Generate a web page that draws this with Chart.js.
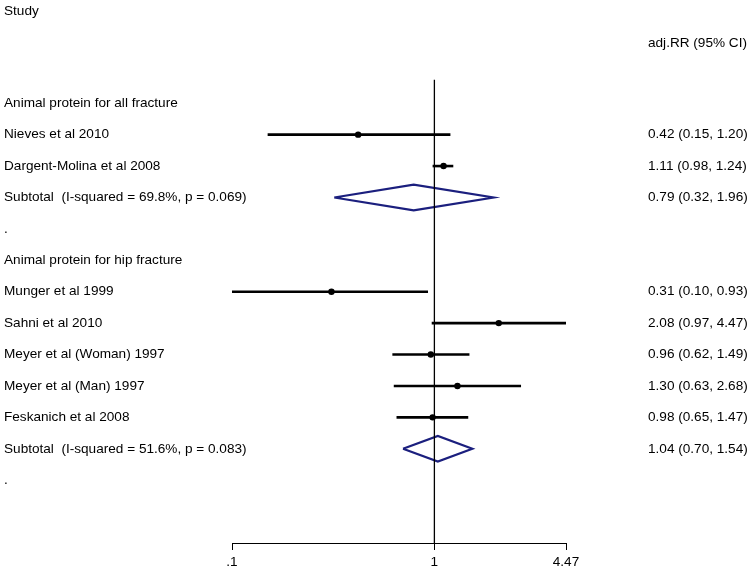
<!DOCTYPE html>
<html>
<head>
<meta charset="utf-8">
<script src="https://cdn.jsdelivr.net/npm/chart.js@4"></script>
<style>
  html, body { margin: 0; padding: 0; background: #fff; }
  #wrap { width: 750px; height: 574px; position: relative; }
</style>
</head>
<body>
<div id="wrap"><canvas id="forest"></canvas></div>
<script>
// rows of the forest plot, top to bottom
var rowLabels = ["Animal protein for all fracture", "Nieves et al 2010", "Dargent-Molina et al 2008",
  "Subtotal  (I-squared = 69.8%, p = 0.069)", ".", "Animal protein for hip fracture",
  "Munger et al 1999", "Sahni et al 2010", "Meyer et al (Woman) 1997", "Meyer et al (Man) 1997",
  "Feskanich et al 2008", "Subtotal  (I-squared = 51.6%, p = 0.083)", "."];
var rowPos   = [3, 4, 5, 6, 7, 8, 9, 10, 11, 12, 13, 14, 15];
var rowKind  = ["head", "study", "study", "sub", "blank", "head", "study", "study", "study", "study", "study", "sub", "blank"];
var rrEst    = [null, 0.42, 1.11, 0.79, null, null, 0.31, 2.08, 0.96, 1.30, 0.98, 1.04, null];
var rrLow    = [null, 0.15, 0.98, 0.32, null, null, 0.10, 0.97, 0.62, 0.63, 0.65, 0.70, null];
var rrHigh   = [null, 1.20, 1.24, 1.96, null, null, 0.93, 4.47, 1.49, 2.68, 1.47, 1.54, null];
var tickVals = [0.1, 1, 4.47];
var tickText = [".1", "1", "4.47"];
var refLineRows = [2.25, 17];

var FONT = "13.6px 'Liberation Sans', Arial, sans-serif";
var NAVY = "#1b1f7e";

var datasets = [];
// line of no effect
datasets.push({
  data: [{x: 1, y: refLineRows[0]}, {x: 1, y: refLineRows[1]}],
  showLine: true, borderColor: "#000", borderWidth: 1.3, pointRadius: 0
});
var pts = [];
for (var i = 0; i < rowPos.length; i++) {
  if (rowKind[i] == "study") {
    datasets.push({
      data: [{x: rrLow[i], y: rowPos[i]}, {x: rrHigh[i], y: rowPos[i]}],
      showLine: true, borderColor: "#000", borderWidth: 2.6, pointRadius: 0
    });
    pts.push({x: rrEst[i], y: rowPos[i]});
  } else if (rowKind[i] == "sub") {
    var h = 0.41;
    datasets.push({
      data: [{x: rrLow[i], y: rowPos[i]}, {x: rrEst[i], y: rowPos[i] - h},
             {x: rrHigh[i], y: rowPos[i]}, {x: rrEst[i], y: rowPos[i] + h},
             {x: rrLow[i], y: rowPos[i]}],
      showLine: true, borderColor: NAVY, borderWidth: 2.2, pointRadius: 0, tension: 0
    });
  }
}
datasets.push({
  data: pts, showLine: false, pointRadius: 3.2,
  pointBackgroundColor: "#000", pointBorderColor: "#000", borderWidth: 0
});

var textPlugin = {
  id: "forestText",
  afterDraw: function (chart) {
    var ctx = chart.ctx;
    var ys = chart.scales.y;
    ctx.save();
    ctx.font = FONT;
    ctx.fillStyle = "#000";
    ctx.textBaseline = "middle";
    ctx.textAlign = "left";
    ctx.fillText("Study", 4, ys.getPixelForValue(0.06));
    ctx.fillText("adj.RR (95% CI)", 648, ys.getPixelForValue(1.08));
    for (var i = 0; i < rowPos.length; i++) {
      var y = ys.getPixelForValue(rowPos[i]);
      ctx.fillText(rowLabels[i], 4, y);
      if (rrEst[i] != null) {
        var s = rrEst[i].toFixed(2) + " (" + rrLow[i].toFixed(2) + ", " + rrHigh[i].toFixed(2) + ")";
        ctx.fillText(s, 648, y);
      }
    }
    ctx.restore();
  }
};

new Chart(document.getElementById("forest").getContext("2d"), {
  type: "scatter",
  data: { datasets: datasets },
  options: {
    responsive: true,
    maintainAspectRatio: false,
    animation: false,
    layout: { padding: { left: 232, right: 184, top: 9, bottom: 0 } },
    plugins: { legend: { display: false }, tooltip: { enabled: false } },
    scales: {
      x: {
        type: "logarithmic",
        min: tickVals[0],
        max: tickVals[tickVals.length - 1],
        afterBuildTicks: function (scale) {
          scale.ticks = tickVals.map(function (v) { return {value: v}; });
        },
        afterFit: function (scale) { scale.height = 31; },
        ticks: {
          autoSkip: false, maxRotation: 0, padding: 4,
          color: "#000", font: { family: "'Liberation Sans', Arial, sans-serif", size: 13.6 },
          callback: function (v) {
            var k = tickVals.indexOf(v);
            return k >= 0 ? tickText[k] : "";
          }
        },
        grid: { drawOnChartArea: false, drawTicks: true, tickLength: 7, color: "#000" },
        border: { display: true, color: "#000", width: 1 }
      },
      y: {
        display: false, reverse: true, min: 0, max: 17
      }
    }
  },
  plugins: [textPlugin]
});
</script>
</body>
</html>
